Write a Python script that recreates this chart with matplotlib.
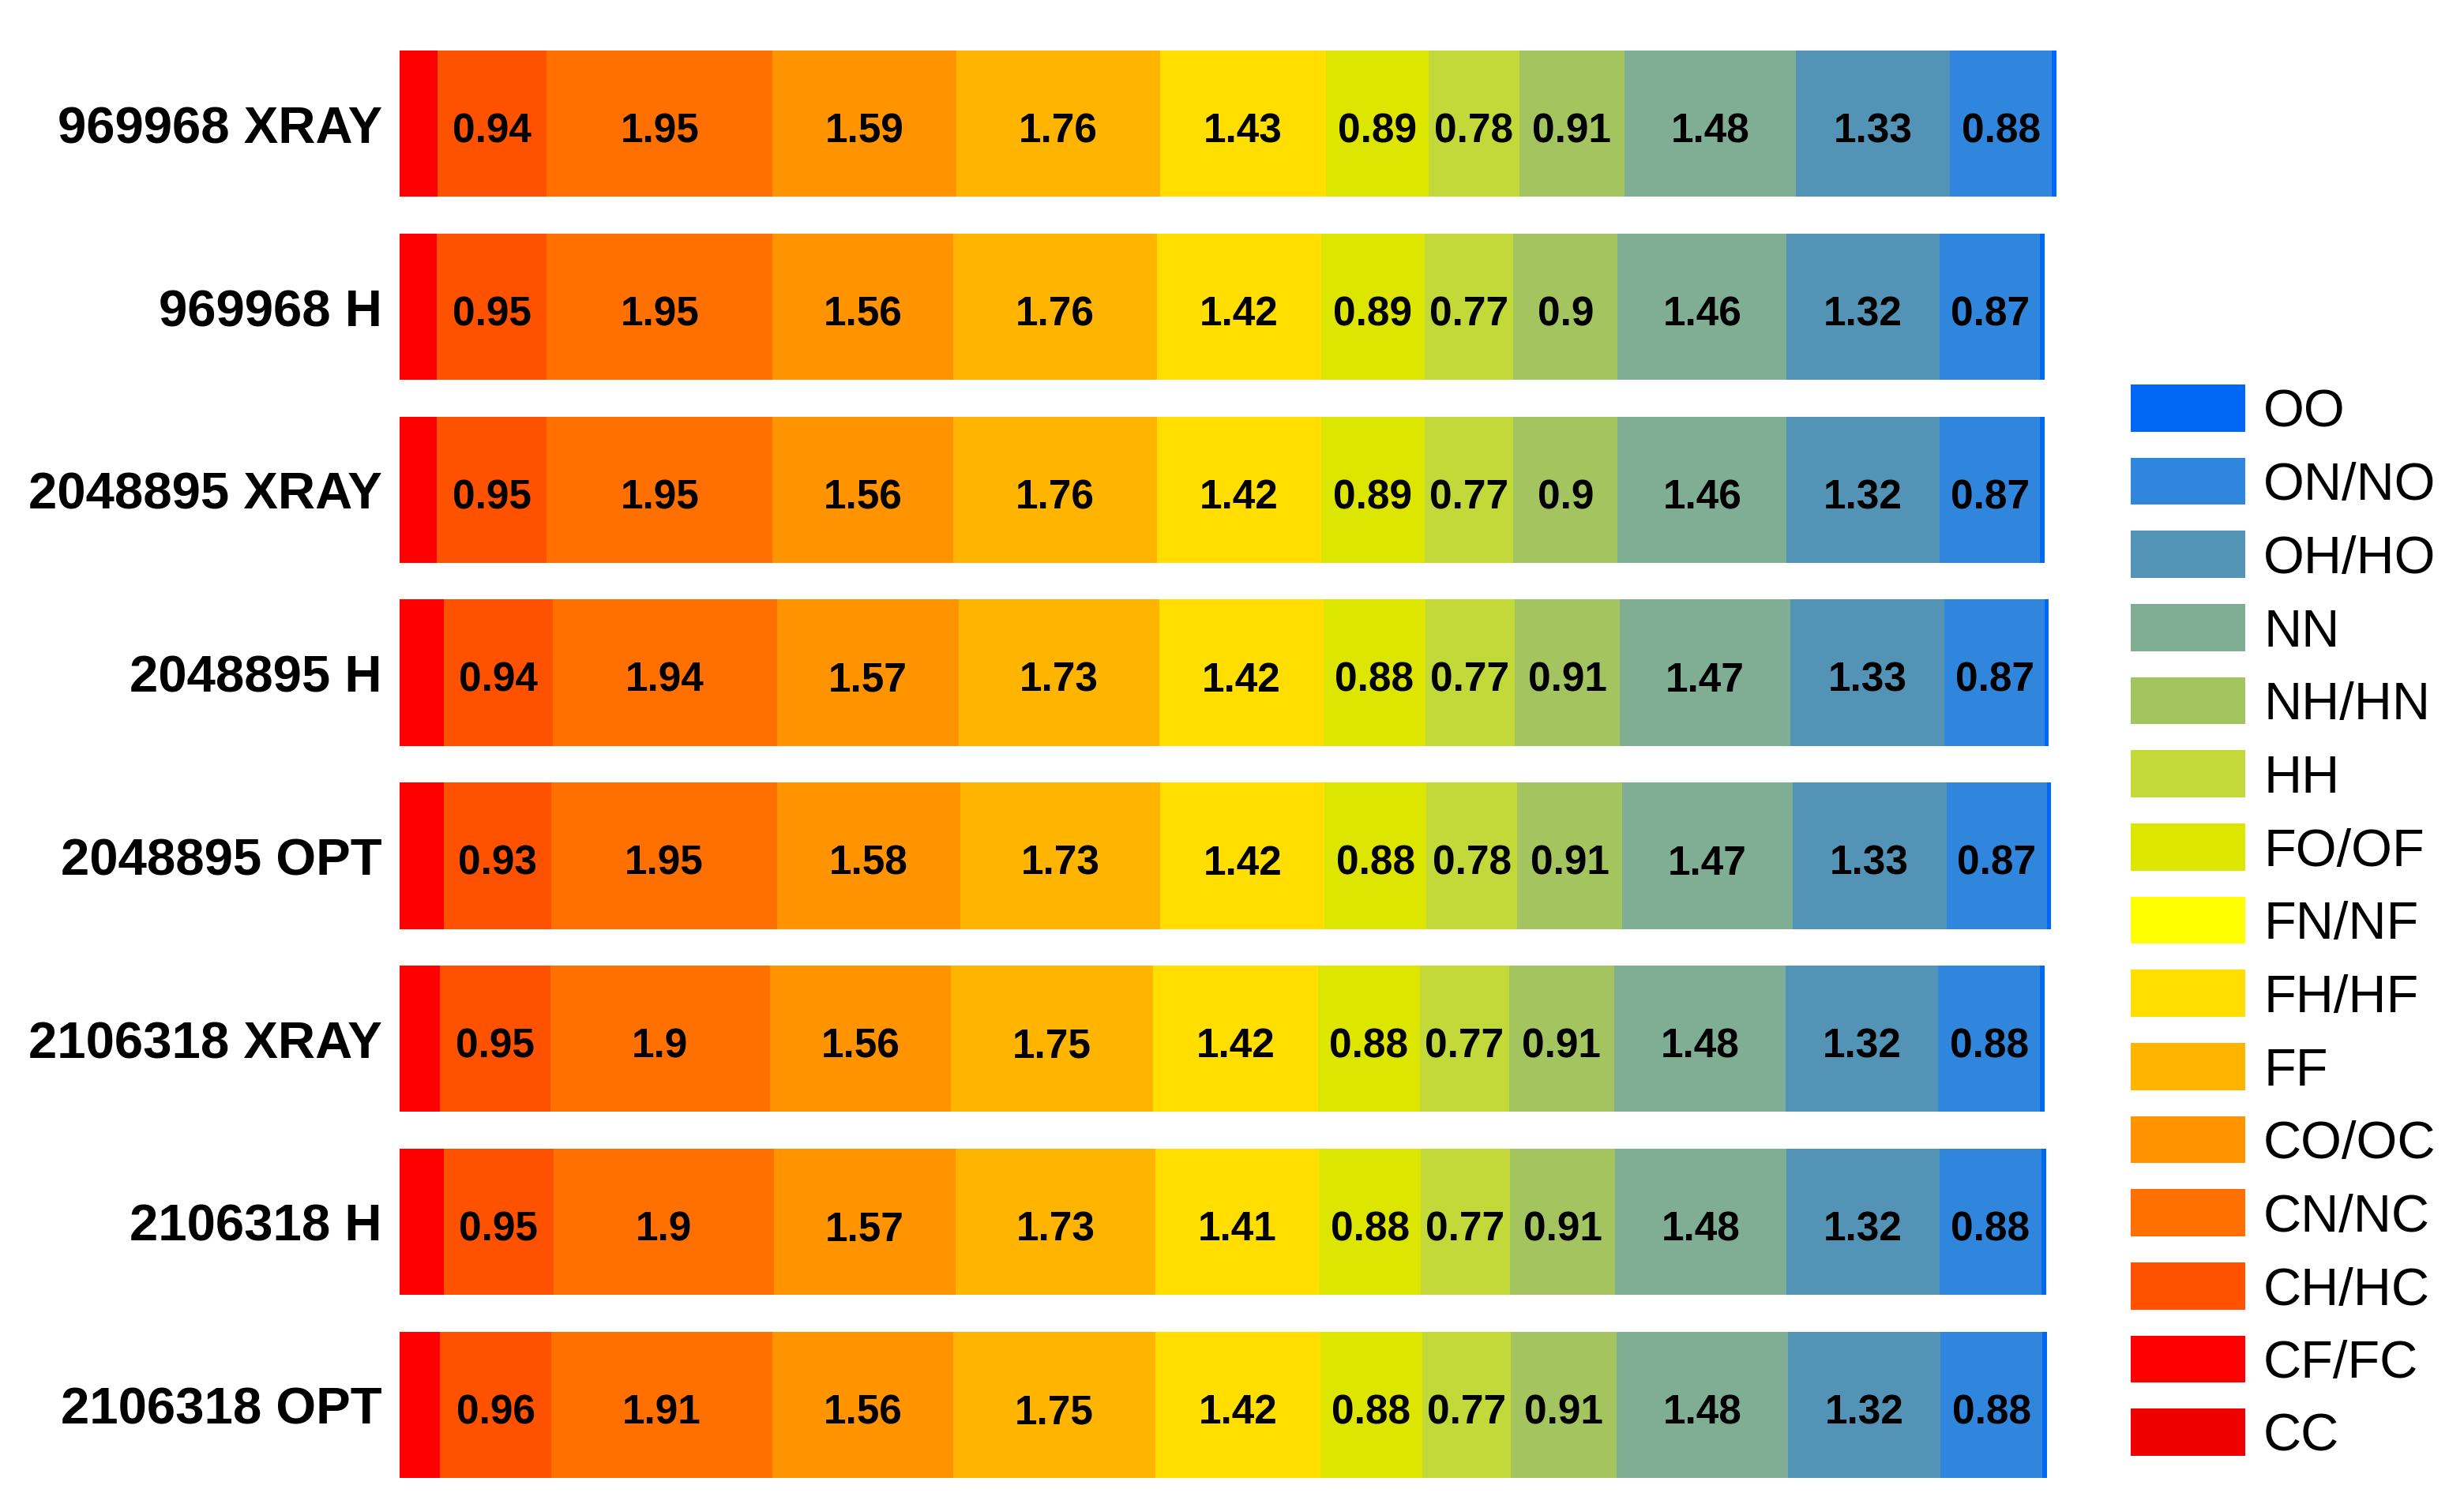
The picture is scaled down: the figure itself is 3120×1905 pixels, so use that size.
import matplotlib.pyplot as plt
import numpy as np

plt.rcParams["font.family"] = ["Liberation Sans", "DejaVu Sans"]

STRUCTURES = [
    "969968 XRAY",
    "969968 H",
    "2048895 XRAY",
    "2048895 H",
    "2048895 OPT",
    "2106318 XRAY",
    "2106318 H",
    "2106318 OPT",
]

CONTACTS = ["CC", "CF/FC", "CH/HC", "CN/NC", "CO/OC", "FF", "FH/HF", "FN/NF",
            "FO/OF", "HH", "NH/HN", "NN", "OH/HO", "ON/NO", "OO"]

COLORS = ["#ee0000", "#ff0000", "#ff5200", "#ff7000", "#ff9400", "#ffb400",
          "#ffde00", "#ffff00", "#dde600", "#c3d93a", "#a4c45f", "#7fae94",
          "#5393b6", "#3086dc", "#0068f4"]

# one list per contact type, one value per structure (top to bottom)
CC = [0.0, 0.0, 0.0, 0.0, 0.0, 0.0, 0.0, 0.0]
CF = [0.33, 0.32, 0.32, 0.38, 0.38, 0.35, 0.38, 0.35]
CH = [0.94, 0.95, 0.95, 0.94, 0.93, 0.95, 0.95, 0.96]
CN = [1.95, 1.95, 1.95, 1.94, 1.95, 1.9, 1.9, 1.91]
CO = [1.59, 1.56, 1.56, 1.57, 1.58, 1.56, 1.57, 1.56]
FF = [1.76, 1.76, 1.76, 1.73, 1.73, 1.75, 1.73, 1.75]
FH = [1.43, 1.42, 1.42, 1.42, 1.42, 1.42, 1.41, 1.42]
FN = [0.0, 0.0, 0.0, 0.0, 0.0, 0.0, 0.0, 0.0]
FO = [0.89, 0.89, 0.89, 0.88, 0.88, 0.88, 0.88, 0.88]
HH = [0.78, 0.77, 0.77, 0.77, 0.78, 0.77, 0.77, 0.77]
NH = [0.91, 0.9, 0.9, 0.91, 0.91, 0.91, 0.91, 0.91]
NN = [1.48, 1.46, 1.46, 1.47, 1.47, 1.48, 1.48, 1.48]
OH = [1.33, 1.32, 1.32, 1.33, 1.33, 1.32, 1.32, 1.32]
ON = [0.88, 0.87, 0.87, 0.87, 0.87, 0.88, 0.88, 0.88]
OO = [0.04, 0.035, 0.035, 0.035, 0.035, 0.035, 0.04, 0.035]

SERIES = [CC, CF, CH, CN, CO, FF, FH, FN, FO, HH, NH, NN, OH, ON, OO]
# small contacts carry no value label in the original
LABELLED = {"CH/HC", "CN/NC", "CO/OC", "FF", "FH/HF", "FO/OF", "HH",
            "NH/HN", "NN", "OH/HO", "ON/NO"}


def main() -> None:
    fig = plt.figure(figsize=(15.6, 9.53), dpi=200)
    ax = fig.add_axes([506 / 3120, 1 - 1873 / 1906, 2098 / 3120, 1808 / 1906])

    y = np.arange(len(STRUCTURES))
    left = np.zeros(len(STRUCTURES))
    handles = []
    for name, color, vals in zip(CONTACTS, COLORS, SERIES):
        vals = np.array(vals)
        bars = ax.barh(y, vals, left=left, height=0.8, color=color,
                       linewidth=0, label=name)
        handles.append(bars)
        if name in LABELLED:
            for yi, l, v in zip(y, left, vals):
                ax.text(l + v / 2, yi + 0.04, f"{v:g}", ha="center",
                        va="center", fontsize=18.5, fontweight="bold")
        left += vals

    ax.set_xlim(0, 14.31)
    ax.set_ylim(len(STRUCTURES) - 0.6, -0.4)
    ax.set_yticks(y, STRUCTURES, fontsize=23.5, fontweight="bold")
    ax.tick_params(axis="y", length=0, pad=8)
    ax.set_xticks([])
    for spine in ax.spines.values():
        spine.set_visible(False)

    fig.legend(handles[::-1], CONTACTS[::-1], loc="upper left",
               bbox_to_anchor=(2698 / 3120, 1 - 488 / 1906),
               frameon=False, fontsize=24, handlelength=2.18,
               handleheight=1.0, handletextpad=0.34, labelspacing=0.39,
               borderpad=0, borderaxespad=0)

    fig.savefig("out.png", dpi=200)
    plt.close(fig)


if __name__ == "__main__":
    main()
